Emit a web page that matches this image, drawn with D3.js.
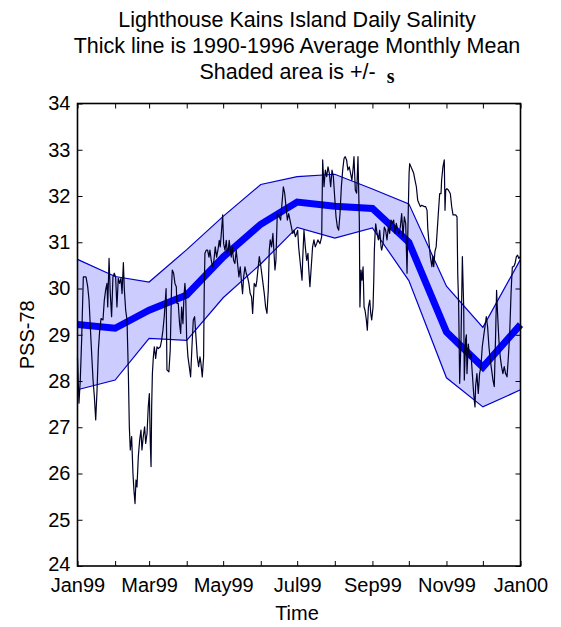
<!DOCTYPE html>
<html>
<head>
<meta charset="utf-8">
<script src="https://cdn.jsdelivr.net/npm/d3@7"></script>
<style>
  html, body { margin: 0; padding: 0; background: #fff; }
  svg { display: block; font-family: "Liberation Sans", Arial, sans-serif; }
</style>
</head>
<body>
<svg id="chart" width="561" height="627"></svg>
<script>
// Monthly climatology (1990-1996), plotted at the start of each month
const monthStarts = ["1999-01-01","1999-02-01","1999-03-01","1999-04-01","1999-05-01","1999-06-01",
                     "1999-07-01","1999-08-01","1999-09-01","1999-10-01","1999-11-01","1999-12-01","2000-01-01"];
const monthlyMean  = [29.22, 29.14, 29.53, 29.86, 30.68, 31.39, 31.87, 31.78, 31.73, 31.00, 29.06, 28.30, 29.22];
const monthlySigma = [1.41, 1.12, 0.61, 0.98, 0.88, 0.86, 0.55, 0.69, 0.42, 0.83, 0.99, 0.86, 1.41];

// Daily salinity for 1999: day of year (0 = 1 Jan) and PSS-78 value
const dailyDay = [
  0,1.2,2.3,3.4,4.8,7.0,8.4,9.5,11.1,12.8,13.9,15.0,16.1,17.2,18.3,19.4,21.0,22.1,23.2,24.3,24.9,26.0,27.0,28.1,29.2,30.3,
  31.4,32.5,33.6,34.7,35.8,36.7,37.8,38.6,39.7,40.8,41.9,42.7,43.5,44.6,45.7,46.5,47.4,48.2,49.0,50.1,51.2,52.3,53.1,54.2,
  55.3,56.2,57.3,58.3,59.2,60.0,60.6,61.1,61.7,62.5,63.3,64.4,65.5,66.6,68.2,69.3,70.4,71.5,73.0,73.7,75.3,76.4,77.5,78.1,
  79.2,80.3,81.4,81.9,83.0,84.1,85.0,85.8,86.9,87.7,88.5,89.1,89.9,91.0,92.1,93.2,94.3,95.4,96.5,97.6,98.7,99.8,100.9,101.7,
  102.8,103.9,104.4,105.0,106.1,107.2,108.3,109.1,110.2,111.3,112.4,113.5,114.6,115.7,116.8,117.6,118.7,119.6,120.4,121.5,
  122.6,123.4,124.2,125.0,125.9,126.7,127.5,128.6,129.7,130.8,131.9,133.0,134.1,135.2,136.0,136.9,138.0,139.0,140.1,141.2,
  142.3,143.4,144.3,145.6,147.0,147.8,148.9,149.8,151.1,152.5,153.9,155.0,156.1,157.2,158.0,158.8,159.9,161.0,162.7,163.5,
  164.6,166.3,167.4,168.5,169.6,170.7,171.8,172.9,174.0,175.1,176.2,177.3,178.4,179.5,180.6,181.4,182.2,183.3,185.0,185.5,
  186.6,187.7,188.8,189.9,190.4,191.5,192.6,193.7,194.8,195.9,197.0,198.1,199.8,201.2,202.0,203.1,204.2,205.3,206.4,207.5,
  208.6,209.7,210.8,211.9,213.0,214.1,215.2,216.3,217.4,218.5,219.6,220.6,221.7,222.8,223.9,225.0,226.1,227.2,227.8,228.9,
  230.0,231.1,231.6,232.2,232.7,233.6,234.4,235.3,236.1,236.9,238.0,238.8,239.7,240.8,241.6,242.4,243.5,244.1,244.6,245.2,
  245.7,246.8,247.9,249.0,250.1,250.6,251.7,252.8,253.9,255.0,256.1,257.2,258.3,259.4,260.5,261.6,262.7,263.8,264.9,266.0,
  267.1,268.2,269.3,270.4,271.5,272.6,273.2,273.7,274.8,275.9,277.0,278.1,279.2,280.3,281.4,282.5,283.6,285.8,286.9,288.0,
  288.6,289.6,290.7,292.0,292.8,293.5,294.5,295.5,297.3,298.4,299.5,300.0,301.1,302.2,302.8,303.4,304.4,305.5,307.2,308.3,
  309.4,311.6,312.7,313.3,314.0,314.9,316.0,317.1,318.2,318.7,319.8,320.4,320.9,322.0,323.1,324.2,325.3,326.4,327.5,328.0,
  329.1,330.2,331.3,332.4,333.5,334.6,335.7,336.8,337.9,339.0,340.1,341.2,342.3,343.4,344.5,345.3,346.1,347.2,348.3,349.4,
  350.5,351.6,352.7,353.9,355.0,356.1,357.2,357.7,358.3,359.4,360.5,361.6,362.6,363.7,364.8
];
const dailySalinity = [
  28.5,27.52,28.02,28.88,30.25,30.25,30.04,29.75,28.88,28.02,27.66,27.16,27.8,28.67,29.1,29.35,29.32,29.75,29.97,30.11,29.6,30.65,29.89,29.39,30.25,30.33,
  30.25,29.6,30.22,30.11,30.22,29.89,30.56,29.97,29.53,29.32,28.16,27.01,26.51,26.8,26.0,25.64,25.35,25.86,25.71,26.36,26.72,26.94,26.51,26.8,
  27.01,26.65,26.87,27.44,27.73,26.65,26.15,27.44,28.16,28.52,28.74,28.49,28.74,28.7,28.74,28.88,29.1,29.4,30.0,28.24,28.2,28.67,30.04,30.4,
  30.33,30.11,30.04,29.68,29.68,29.24,29.03,29.6,29.24,29.82,30.11,29.89,28.96,28.52,28.31,28.09,28.74,29.32,29.39,28.96,28.52,28.31,28.52,28.38,
  28.09,28.52,29.96,30.76,30.83,30.83,30.68,30.83,30.61,30.47,30.61,30.9,30.68,30.83,31.04,30.9,31.26,31.59,30.97,30.83,
  31.04,30.76,30.83,31.04,30.83,30.68,30.9,30.61,30.54,30.83,30.54,30.25,30.47,30.11,29.89,30.25,30.47,30.33,30.25,30.11,
  29.89,29.82,29.46,30.11,30.04,30.18,30.47,30.69,30.47,30.18,29.89,29.6,29.46,29.97,30.83,31.05,30.9,31.19,30.4,30.61,
  31.62,31.55,31.48,31.84,32.2,32.06,31.77,31.48,31.62,31.48,31.33,31.19,31.26,31.12,31.19,31.26,30.9,30.61,30.18,30.61,
  31.26,30.9,30.61,30.76,30.47,30.04,30.47,30.9,31.05,30.9,30.97,31.05,30.97,31.12,32.78,32.2,32.56,32.42,32.63,32.49,
  32.2,32.56,32.42,31.98,31.55,31.33,31.26,31.62,32.2,32.56,32.81,32.85,32.78,32.56,32.63,32.49,32.34,32.63,32.85,32.13,
  32.06,32.85,32.2,31.48,29.6,30.4,30.18,30.47,29.6,29.53,29.32,29.1,29.6,29.75,29.46,29.32,29.6,30.18,30.83,31.19,
  31.4,31.19,31.05,31.26,30.9,30.83,30.97,31.33,31.26,31.05,31.33,31.19,31.48,31.41,31.48,31.19,31.41,31.26,31.19,31.33,
  31.62,31.12,31.55,31.41,30.33,31.77,32.49,32.7,32.63,32.56,32.49,32.34,32.2,31.91,31.84,31.77,31.8,31.77,31.77,31.69,
  31.3,31.0,30.69,30.47,30.7,30.47,30.8,30.9,31.62,32.05,32.05,32.34,32.63,32.78,31.69,32.13,32.16,32.13,32.05,31.77,
  31.59,31.59,31.55,30.3,29.7,27.95,28.9,30.69,29.6,28.02,28.9,29.0,28.16,28.8,28.5,28.6,28.16,27.73,27.44,27.88,
  28.16,27.73,28.16,28.31,28.74,28.96,29.17,29.39,29.17,28.74,28.45,28.24,28.02,27.88,29.0,29.96,29.46,28.88,28.52,28.31,
  28.16,28.31,28.16,28.09,28.52,29.03,29.89,30.18,30.47,30.47,30.54,30.69,30.72,30.65,30.69
];

// Axis settings
const yTicks = [24, 25, 26, 27, 28, 29, 30, 31, 32, 33, 34];
const titleLines = ["Lighthouse Kains Island Daily Salinity", "Thick line is 1990-1996 Average Monthly Mean"];

const svg = d3.select("#chart");
const plot = { left: 77.5, right: 520.5, top: 103.5, bottom: 566 };
const cx = 297;

const parse = d3.utcParse("%Y-%m-%d");
const t0 = parse(monthStarts[0]);
const t1 = parse(monthStarts[monthStarts.length - 1]);

const x = d3.scaleUtc().domain([t0, t1]).range([plot.left, plot.right]);
const y = d3.scaleLinear().domain([24, 34]).range([plot.bottom, plot.top]);

const monthly = monthStarts.map((s, i) => ({ date: parse(s), mean: monthlyMean[i], sd: monthlySigma[i] }));
const daily = dailyDay.map((d, i) => ({ date: new Date(t0.getTime() + d * 864e5), v: dailySalinity[i] }));

// +/- one standard deviation band
const band = d3.area().x(d => x(d.date)).y0(d => y(d.mean - d.sd)).y1(d => y(d.mean + d.sd));
svg.append("path").datum(monthly).attr("d", band).attr("fill", "#ccccff");
svg.append("path").datum(monthly).attr("fill", "none").attr("stroke", "#0000cc").attr("stroke-width", 1.2)
  .attr("d", d3.line().x(d => x(d.date)).y(d => y(d.mean + d.sd)));
svg.append("path").datum(monthly).attr("fill", "none").attr("stroke", "#0000cc").attr("stroke-width", 1.2)
  .attr("d", d3.line().x(d => x(d.date)).y(d => y(d.mean - d.sd)));

// Monthly mean (thick line)
svg.append("path").datum(monthly).attr("fill", "none").attr("stroke", "#0000ff").attr("stroke-width", 7)
  .attr("d", d3.line().x(d => x(d.date)).y(d => y(d.mean)));

// Daily record
svg.append("path").datum(daily).attr("fill", "none").attr("stroke", "#000028").attr("stroke-width", 1.2)
  .attr("stroke-linejoin", "round")
  .attr("d", d3.line().x(d => x(d.date)).y(d => y(d.v)));

// Axes with inward ticks on all four sides
const months = monthStarts.map(parse);
const fmt = d3.utcFormat("%b%y");
const xLabel = d => (d.getUTCMonth() % 2 === 0 ? fmt(d) : "");

const gB = svg.append("g").attr("transform", `translate(0,${plot.bottom})`)
  .call(d3.axisBottom(x).tickValues(months).tickFormat(xLabel).tickSizeInner(-5).tickSizeOuter(0).tickPadding(12));
const gT = svg.append("g").attr("transform", `translate(0,${plot.top})`)
  .call(d3.axisTop(x).tickValues(months).tickFormat("").tickSizeInner(-5).tickSizeOuter(0));
const gL = svg.append("g").attr("transform", `translate(${plot.left},0)`)
  .call(d3.axisLeft(y).tickValues(yTicks).tickFormat(d3.format("d")).tickSizeInner(-5).tickSizeOuter(0).tickPadding(7));
const gR = svg.append("g").attr("transform", `translate(${plot.right},0)`)
  .call(d3.axisRight(y).tickValues(yTicks).tickFormat("").tickSizeInner(-5).tickSizeOuter(0));

[gB, gT, gL, gR].forEach(g => {
  g.select(".domain").remove();
  g.selectAll(".tick line").attr("stroke", "#000").attr("stroke-width", 1);
  g.selectAll(".tick text").attr("fill", "#000").style("font-size", "20px")
    .style("font-family", '"Liberation Sans", Arial, sans-serif');
});
// keep the lowest value label clear of the first month label
gL.selectAll(".tick text").filter(d => d === 24).attr("dy", "0.2em");

// Frame
svg.append("rect")
  .attr("x", plot.left).attr("y", plot.top)
  .attr("width", plot.right - plot.left).attr("height", plot.bottom - plot.top)
  .attr("fill", "none").attr("stroke", "#000").attr("stroke-width", 1.6);

// Titles
titleLines.forEach((t, i) => {
  svg.append("text").attr("x", cx).attr("y", 27 + i * 26).attr("text-anchor", "middle")
    .style("font-size", "21.5px").text(t);
});
const t3 = svg.append("text").attr("x", cx).attr("y", 79).attr("text-anchor", "middle").style("font-size", "21.5px");
t3.append("tspan").text("Shaded area is +/-");
t3.append("tspan").attr("dx", 11).attr("dy", 4).style("font-family", '"Liberation Serif", serif')
  .style("font-weight", "bold").style("font-size", "20px").text("s");

// Axis titles
svg.append("text").attr("x", cx).attr("y", 620).attr("text-anchor", "middle").style("font-size", "20px").text("Time");
svg.append("text").attr("transform", `translate(34,${(plot.top + plot.bottom) / 2}) rotate(-90)`)
  .attr("text-anchor", "middle").style("font-size", "20px").text("PSS-78");
</script>
</body>
</html>
